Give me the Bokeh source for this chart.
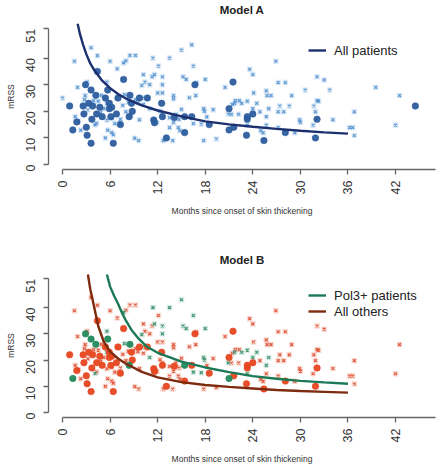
import math
from bokeh.plotting import figure
from bokeh.models import ColumnDataSource, FixedTicker, Legend, LegendItem, Range1d, LinearAxis
from bokeh.layouts import column
from bokeh.embed import file_html
from bokeh.resources import INLINE

# ---------------- data ----------------
# groups: "pol3" = Pol3+ patient, "other" = all others, "na" = shown only in Model A
circ_t = [0.9, 1.3, 1.8, 2.6, 2.9, 2.7, 3.0, 3.1, 3.6, 3.3, 3.6, 3.8, 3.7, 4.2, 4.3, 4.4, 4.7, 5.0, 5.4, 5.7,
          5.9, 5.9, 6.2, 6.1, 6.4, 6.8, 7.0, 7.3, 7.7, 8.5, 8.7, 8.8, 8.4, 9.7, 10.7, 11.5, 11.6, 12.5, 12.6, 13.1,
          14.1, 15.4, 15.4, 16.3, 16.7, 18.5, 21.5, 21.0, 21.0, 21.6, 23.3, 23.3, 24.0, 23.2, 25.4, 28.1, 32.1, 31.9, 44.5]
circ_y = [22, 13, 16, 22, 30, 19, 14, 11, 8, 23, 28, 22, 17, 26, 19, 35, 21.5, 18, 25, 28,
          23, 21, 21.5, 18, 8, 19, 25, 15, 32, 26, 23, 20, 18, 25, 25, 16.7, 15.7, 23, 18, 10,
          17.7, 12, 18, 18, 30, 15, 31, 21, 13, 14, 18, 17, 19, 11, 9, 12, 17, 10, 22]
circ_grp = ["other", "pol3", "other", "other", "pol3", "other", "other", "other", "other", "other",
            "pol3", "other", "other", "pol3", "other", "other", "other", "other", "other", "pol3",
            "other", "other", "other", "other", "other", "other", "other", "other", "other", "pol3",
            "other", "other", "pol3", "other", "other", "other", "other", "other", "other", "other",
            "other", "other", "pol3", "other", "other", "other", "other", "other", "pol3", "other",
            "other", "other", "other", "other", "other", "other", "other", "other", "na"]

cross_t = [0.0, 16.3, 39.5, 30.6, 33.7,
           1.5, 1.6, 2.0, 2.3, 1.9, 2.85, 2.77, 3.1, 3.6, 4.4, 4.5, 4.1, 5.5, 5.6, 5.6, 5.6, 5.7, 5.4, 6.0, 6.2,
           6.2, 6.4, 6.6, 6.85, 6.9, 7.2, 7.3, 7.6, 7.8, 7.7, 8.0, 8.0, 8.3, 8.5, 9.2, 8.6, 9.1, 9.2, 9.5, 9.6,
           9.7, 10.1, 10.2, 10.2, 10.0, 10.4, 3.2, 4.8, 4.9, 5.2, 3.9, 4.3,
           11.4, 13.5, 15.0, 12.1, 11.6, 11.3, 12.6, 12.6, 11.0, 15.2, 15.6, 16.5, 16.9, 18.0, 12.0, 12.6, 14.0,
           14.0, 16.0, 16.8, 15.0, 12.3, 12.6, 11.6, 11.9, 14.3, 14.7, 13.5, 14.0, 13.5, 14.6, 14.8, 16.5, 17.5,
           18.2, 17.9, 17.8, 12.7, 13.9, 17.8, 19.4, 11.0, 20.9, 21.7, 21.3, 22.2, 21.4, 19.0, 20.5, 21.8, 22.3, 22.6,
           23.6, 24.0, 26.9, 27.2, 28.1, 33.0, 25.7, 24.1, 25.8, 26.3, 28.9, 23.3, 24.5, 24.0, 26.0, 25.7, 23.3,
           24.9, 27.4, 27.2, 27.9, 28.6, 29.9, 30.0, 31.7, 32.3, 31.9, 31.6, 34.1, 25.0, 25.3, 27.2, 29.3, 25.7,
           36.8, 42.0, 42.5, 36.2, 36.6, 36.8, 32.1, 32.1]
cross_y = [25, 45, 29, 28, 28,
           38.8, 18, 16.4, 12.9, 29, 25.9, 24.4, 31, 43.9, 40.9, 23.8, 14.9, 24.7, 23, 31, 16.7, 12.9, 10, 38.8, 17.3,
           12, 11.2, 15.4, 25, 36, 15.4, 17, 22.2, 26.3, 38.2, 39, 19.8, 23.4, 41, 41, 18.5, 9.9, 24.4, 23.2, 9,
           16.8, 25, 22.6, 33.8, 29.7, 31, 20.5, 19.5, 26, 21, 24, 15.5,
           40, 40, 43, 37, 33.8, 33, 33, 30, 30, 33, 32, 37, 30.7, 32, 26.9, 26.9, 25.9,
           24.7, 25.1, 25.9, 20.7, 20.1, 18.9, 17, 15.8, 18.9, 17, 17.6, 15.8, 13.9, 13.9, 12.7, 15.4, 15.2,
           17.9, 20, 21, 9, 9, 9, 9.6, 21, 19, 23, 18.9, 18.9, 22.6, 20.6, 29, 24, 24, 23,
           35.8, 33.8, 38.8, 30.8, 30.8, 31.8, 27.7, 26.9, 25.9, 25.9, 25.9, 23.8, 23, 21, 21, 18, 14.8,
           19.8, 22, 19.8, 19.8, 22, 16.8, 15.8, 22, 23.8, 19.8, 14.8, 16.8, 12.7, 11.9, 13.9, 11.9, 14.8,
           19.8, 14.8, 25.9, 13.9, 13.9, 10.9, 33, 24]
cross_grp = ["na", "na", "na", "na", "na",
             "other", "other", "other", "other", "other", "other", "other", "other", "other", "other", "other", "pol3",
             "other", "pol3", "pol3", "other", "other", "other", "other", "other",
             "other", "other", "other", "other", "other", "other", "other", "other", "pol3", "pol3", "other", "other",
             "other", "other", "other", "other", "other", "other", "other", "other",
             "other", "pol3", "other", "other", "pol3", "other", "other", "other", "other", "other", "other", "other",
             "pol3", "pol3", "pol3", "other", "pol3", "other", "pol3", "pol3", "other", "pol3", "pol3", "pol3", "other",
             "pol3", "other", "other", "other",
             "other", "other", "other", "other", "other", "other", "other", "other", "other", "other", "other", "other",
             "other", "other", "other", "pol3", "pol3",
             "other", "pol3", "pol3", "other", "other", "other", "other", "pol3", "pol3", "pol3", "other", "other",
             "other", "other", "other", "other", "other", "pol3",
             "other", "other", "other", "other", "other", "other", "other", "other", "other", "other", "other", "pol3",
             "pol3", "pol3", "pol3", "pol3", "pol3",
             "other", "other", "other", "other", "other", "other", "other", "other", "other", "other", "other", "other",
             "other", "other", "other", "other", "other",
             "other", "other", "other", "other", "other", "other", "other", "other"]

# fitted curves
curveA_t = [1.9, 2.2, 2.6, 3, 3.5, 4, 5, 6, 7, 8, 10, 12, 15, 18, 21, 24, 27, 30, 33, 36]
curveA_y = [53, 49, 45, 41.5, 38, 35.5, 31.5, 28.7, 26.5, 24.8, 22.2, 20.3, 18.1, 16.2, 15.1, 14.2, 13.4, 12.7, 12.1, 11.6]
pol3_t = [5.6, 6, 6.5, 7, 7.5, 8, 8.7, 9.5, 10.6, 12, 15, 18, 21, 24, 27, 30, 33, 36]
pol3_y = [52.6, 48, 44.5, 41.5, 38, 35, 31.5, 28.5, 25.2, 22.8, 19.4, 17.2, 15.4, 13.9, 12.9, 12.1, 11.5, 11.0]
other_t = [3.2, 3.5, 3.9, 4.5, 5.2, 6, 7, 8, 10, 12, 15, 18, 21, 24, 27, 30, 33, 36]
other_y = [52.6, 47, 41.5, 33, 27, 23.2, 20.6, 18.6, 15.5, 13.4, 11.6, 10.5, 9.8, 9.2, 8.6, 8.2, 7.9, 7.6]

x_ticks = [0, 6, 12, 18, 24, 30, 36, 42]
y_ticks = [0, 10, 20, 30, 40, 51]
y_tick_labels = ["0", "10", "20", "30", "40", "51"]

FONT = "Liberation Sans"


def make_fig(title, height, bottom):
    p = figure(width=437, height=height, x_range=Range1d(-1.77, 47.04), y_range=Range1d(-1.87, 53.0),
               output_backend="svg", toolbar_location=None,
               min_border_left=48, min_border_right=2, min_border_top=22, min_border_bottom=bottom)
    xb = p.below[0]
    yl = p.left[0]
    p.grid.visible = False
    p.outline_line_color = None
    p.background_fill_color = "white"
    p.border_fill_color = "white"
    for ax in (xb, yl):
        ax.axis_line_color = "#666666"
        ax.axis_line_width = 1.3
        ax.major_tick_line_color = "#666666"
        ax.major_tick_line_width = 1.3
        ax.major_tick_out = 5
        ax.major_tick_in = 0
        ax.minor_tick_line_color = None
        ax.major_label_text_font = FONT
        ax.major_label_text_font_size = "12.5px"
        ax.major_label_text_color = "#333333"
        ax.major_label_orientation = math.pi / 2
        ax.axis_label_text_font = FONT
        ax.axis_label_text_font_size = "8.5px"
        ax.axis_label_text_font_style = "normal"
        ax.axis_label_text_color = "#333333"
    xb.ticker = FixedTicker(ticks=x_ticks)
    xb.bounds = (0, 47)
    xb.major_label_standoff = 6
    xb.axis_label_standoff = 9
    xb.axis_label = "Months since onset of skin thickening"
    yl.ticker = FixedTicker(ticks=y_ticks)
    yl.major_label_overrides = {t: l for t, l in zip(y_ticks, y_tick_labels)}
    yl.bounds = (0, 51)
    yl.major_label_standoff = 13
    yl.axis_label_standoff = 3
    yl.axis_label = "mRSS"
    # panel title, carried by an empty axis above the frame
    top_axis = LinearAxis(ticker=FixedTicker(ticks=[]), axis_label=title, axis_line_color=None,
                          major_tick_line_color=None, minor_tick_line_color=None, major_tick_out=0,
                          major_label_text_font_size="0px", major_label_standoff=0, axis_label_standoff=8,
                          axis_label_text_font=FONT, axis_label_text_font_size="11.5px",
                          axis_label_text_font_style="bold", axis_label_text_color="#222222")
    p.add_layout(top_axis, "above")
    return p


def crosses(p, t, y, fill, line):
    src = ColumnDataSource(dict(t=t, y=y))
    p.scatter("t", "y", source=src, marker="square", size=5.5, fill_color=fill, fill_alpha=0.4, line_color=None)
    p.scatter("t", "y", source=src, marker="x", size=4, line_color=line, line_width=1.2, line_alpha=0.85)


def circles(p, t, y, color):
    src = ColumnDataSource(dict(t=t, y=y))
    p.scatter("t", "y", source=src, marker="circle", size=6.5, fill_color=color, fill_alpha=0.95,
              line_color=color, line_alpha=0.6)


# ---------------- Model A ----------------
pA = make_fig("Model A", 250, 81)
crosses(pA, cross_t, cross_y, "#a9cbea", "#4a8ccc")
circles(pA, circ_t, circ_y, "#2c5d9e")
lA = pA.line(curveA_t, curveA_y, line_color="#1c2f6e", line_width=2.4)
legA = Legend(items=[LegendItem(label="All patients", renderers=[lA])], location=(260, 111),
              border_line_alpha=0, background_fill_alpha=0, padding=0, margin=0, spacing=0,
              glyph_width=18, glyph_height=16, label_height=16, label_standoff=8,
              label_text_font=FONT, label_text_font_size="13px", label_text_color="#222222")
pA.add_layout(legA)

# ---------------- Model B ----------------
pB = make_fig("Model B", 217, 48)
ct_o = [t for t, g in zip(cross_t, cross_grp) if g == "other"]
cy_o = [y for y, g in zip(cross_y, cross_grp) if g == "other"]
ct_p = [t for t, g in zip(cross_t, cross_grp) if g == "pol3"]
cy_p = [y for y, g in zip(cross_y, cross_grp) if g == "pol3"]
crosses(pB, ct_o, cy_o, "#f3a893", "#d9472a")
crosses(pB, ct_p, cy_p, "#9fcfb8", "#2c8462")
circles(pB, [t for t, g in zip(circ_t, circ_grp) if g == "other"],
        [y for y, g in zip(circ_y, circ_grp) if g == "other"], "#e6461f")
circles(pB, [t for t, g in zip(circ_t, circ_grp) if g == "pol3"],
        [y for y, g in zip(circ_y, circ_grp) if g == "pol3"], "#228a5c")
lP = pB.line(pol3_t, pol3_y, line_color="#1b7a55", line_width=2.4)
lO = pB.line(other_t, other_y, line_color="#7d2a0e", line_width=2.4)
legB = Legend(items=[LegendItem(label="Pol3+ patients", renderers=[lP]),
                     LegendItem(label="All others", renderers=[lO])], location=(260, 98),
              border_line_alpha=0, background_fill_alpha=0, padding=0, margin=0, spacing=0,
              glyph_width=18, glyph_height=16, label_height=16, label_standoff=8,
              label_text_font=FONT, label_text_font_size="13px", label_text_color="#222222")
pB.add_layout(legB)

layout = column(pA, pB, spacing=0)
open("out.html", "w").write(file_html(layout, INLINE))
